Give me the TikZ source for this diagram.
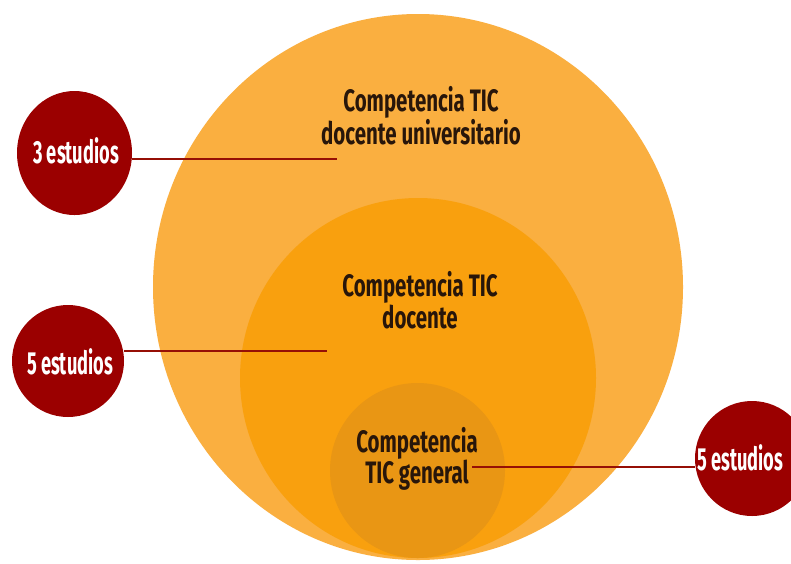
\documentclass[tikz,border=0pt]{standalone}
\usepackage{fontspec}
\setmainfont{Fira Sans}
\newfontfamily\condmain{Fira Sans}[FakeStretch=0.66]
\newfontfamily\condlab{Fira Sans}[FakeStretch=0.57]
\usetikzlibrary{shapes.geometric}
\definecolor{bigC}{RGB}{250,175,64}
\definecolor{midC}{RGB}{249,160,14}
\definecolor{smallC}{RGB}{233,150,20}
\definecolor{redC}{RGB}{155,0,0}
\definecolor{lineC}{RGB}{150,15,5}
\definecolor{txtC}{RGB}{40,22,10}
\tikzset{
  orange/.style={ellipse, inner sep=0pt, draw=none},
  redball/.style={ellipse, inner sep=0pt, draw=none, fill=redC},
  maintext/.style={align=center, text=txtC, font=\condmain\bfseries\fontsize{31}{22.5}\selectfont, inner sep=0pt},
  labtext/.style={text=white, font=\condlab\bfseries\fontsize{32}{32}\selectfont, inner sep=0pt},
  link/.style={draw=lineC, line width=2.4pt}
}
\begin{document}
\begin{tikzpicture}[x=1pt,y=-1pt]
\useasboundingbox (0,0) rectangle (791,563);
\clip (0,0) rectangle (791,563);
\fill[white] (0,0) rectangle (791,563);
% orange circles
\node[orange, fill=bigC, minimum width=530pt, minimum height=546pt] (big) at (418,287) {};
\node[orange, fill=midC, minimum width=356pt, minimum height=360pt] (mid) at (418,378) {};
\node[orange, fill=smallC, minimum width=175pt, minimum height=175pt] (small) at (417.5,470.5) {};
% texts
\node[maintext] (t1) at (421,116) {Competencia TIC\\docente universitario};
\node[maintext] (t2) at (420,300) {Competencia TIC\\docente};
\node[maintext] (t3) at (417,459) {Competencia\\TIC general};
% connector ends
\coordinate (e1) at (337,159);
\coordinate (e2) at (327,351);
\coordinate (e3) at (472,467);
% red circles
\node[redball, minimum width=115pt, minimum height=124pt] (r1) at (74.5,153) {};
\node[redball, minimum width=112pt, minimum height=112pt] (r2) at (68,361) {};
\node[redball, minimum width=114pt, minimum height=115pt] (r3) at (752,458.5) {};
% connectors
\draw[link] (r1.east |- e1) -- (e1);
\draw[link] (r2.east |- e2) -- (e2);
\draw[link] (r3.west |- e3) -- (e3);
% labels
\node[labtext] (l1) at (76,151) {3 estudios};
\node[labtext] (l2) at (70,362) {5 estudios};
\node[labtext, anchor=west] (l3) at (697,458) {5 estudios};
\end{tikzpicture}
\end{document}
